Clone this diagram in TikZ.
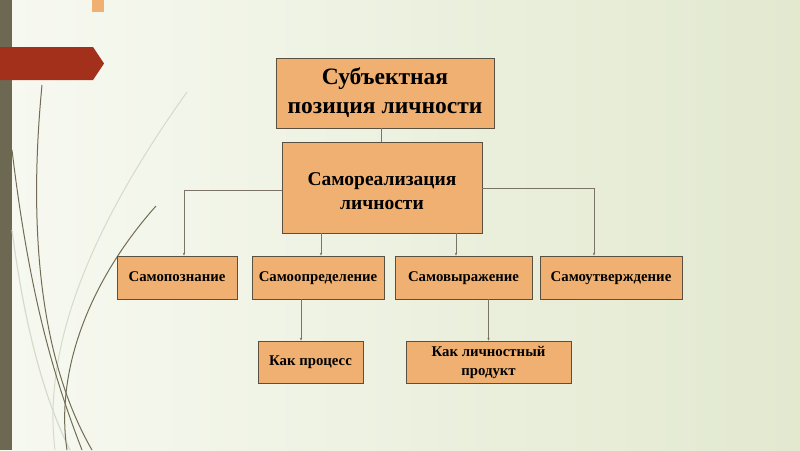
\documentclass[tikz,border=0pt]{standalone}
\usepackage{fontspec}
\setmainfont{Liberation Serif}
\usetikzlibrary{arrows.meta}
\definecolor{boxfill}{HTML}{EFB071}
\definecolor{boxline}{HTML}{5A5040}
\definecolor{barcol}{HTML}{6D6851}
\definecolor{redtab}{HTML}{A2301A}
\definecolor{stem}{HTML}{736C55}
\definecolor{stemlight}{HTML}{D6DACB}
\definecolor{bgleft}{HTML}{F7F9F1}
\definecolor{bgright}{HTML}{E2E9CF}
\tikzset{
  blok/.style={draw=boxline, fill=boxfill, line width=0.7pt, align=center, font=\bfseries, inner sep=2pt},
  svyaz/.style={draw=boxline!80, line width=0.6pt},
  strel/.style={svyaz, -{Stealth[length=3pt,width=2.4pt]}}
}
\begin{document}
\begin{tikzpicture}[x=1pt, y=-1pt]
  \useasboundingbox (0,0) rectangle (800,450);
  % background
  \shade[left color=bgleft, right color=bgright] (0,0) rectangle (800,450);
  \fill[barcol] (0,0) rectangle (12,450);
  \fill[boxfill] (92,0) rectangle (104,12);
  \fill[redtab] (0,47) -- (93,47) -- (104,63.5) -- (93,80) -- (0,80) -- cycle;
  % stems
  \draw[stemlight, line width=1pt] (187,92) .. controls (110,200) and (40,330) .. (55,450);
  \draw[stemlight, line width=1.2pt] (12,230) .. controls (25,330) and (45,400) .. (70,450);
  \draw[stem, line width=1pt] (42,85) .. controls (28,230) and (40,360) .. (92,450);
  \draw[stem, line width=1pt] (12,150) .. controls (30,300) and (55,380) .. (82,450);
  \draw[stem, line width=1pt] (156,206) .. controls (90,280) and (55,370) .. (67,450);

  \node[blok, minimum width=218, minimum height=70, font=\bfseries\fontsize{23.5}{29}\selectfont] (subj) at (385,93) {Субъектная\\позиция личности};
  \node[blok, minimum width=200, minimum height=91, font=\bfseries\fontsize{19.5}{24}\selectfont] (samo) at (382,187.5) {\rule{0pt}{20pt}Самореализация\\личности};
  \foreach \nm/\cx/\w/\txt in {sp/177/120/Самопознание, so/318/132/Самоопределение, sv/463.5/137/Самовыражение, su/611/142/Самоутверждение}
    \node[blok, minimum width=\w, minimum height=43, text height=10, text depth=2, font=\bfseries\fontsize{14.8}{17}\selectfont] (\nm) at (\cx,277.5) {\txt};
  \node[blok, minimum width=105, minimum height=42, font=\bfseries\fontsize{14.8}{17}\selectfont] (kp) at (310.5,362) {Как процесс};
  \node[blok, minimum width=165, minimum height=42, font=\bfseries\fontsize{14.8}{19}\selectfont] (kl) at (488.5,362) {Как личностный\\продукт};

  \draw[svyaz] ([xshift=-4]subj.south) -- ([xshift=-1]samo.north);
  \draw[strel] ([yshift=-2.5]samo.west) -| ([xshift=7]sp.north);
  \draw[strel] ([yshift=-0.5]samo.east) -| ([xshift=-17]su.north);
  \draw[strel] ([xshift=3]so.north |- samo.south) -- ([xshift=3]so.north);
  \draw[strel] ([xshift=-7.5]sv.north |- samo.south) -- ([xshift=-7.5]sv.north);
  \draw[strel] ([xshift=-17]so.south) -- ([xshift=-9.5]kp.north);
  \draw[strel] (kl.north |- sv.south) -- (kl.north);
\end{tikzpicture}
\end{document}
